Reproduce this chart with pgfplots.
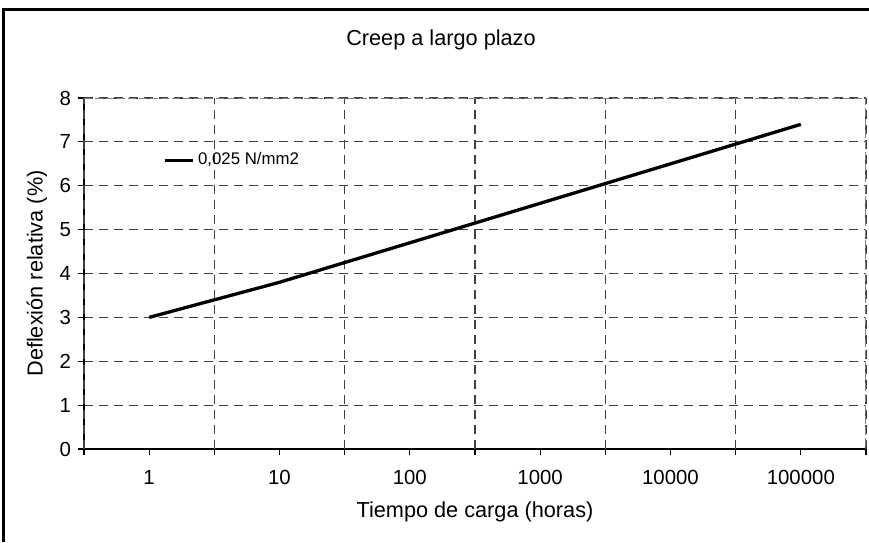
\documentclass[border=0pt]{standalone}
\usepackage{pgfplots}
\pgfplotsset{compat=1.18}
\usepackage{fontspec}
\setmainfont{Liberation Sans}
\begin{document}
\begin{tikzpicture}[x=1pt,y=1pt]
\useasboundingbox (-42pt,-46.5pt) rectangle (392.5pt,224.5pt);
\begin{axis}[
  at={(0,0)}, anchor=south west,
  scale only axis, width=391pt, height=175.5pt,
  xmin=-0.5, xmax=5.5, ymin=0, ymax=8,
  axis x line*=bottom, axis y line*=left,
  axis line style={-, black, line width=0.6pt},
  tick align=outside, major tick length=3pt,
  tick style={black, line width=0.6pt},
  xtick={0,...,5}, xticklabels={1,10,100,1000,10000,100000},
  extra x ticks={-0.5,0.5,1.5,2.5,3.5,4.5,5.5},
  extra x tick labels={,,,,,,},
  extra x tick style={xmajorgrids=true},
  ytick={0,...,8},
  ymajorgrids=true,
  major grid style={dash pattern=on 4.5pt off 3pt, color=black!75, line width=0.55pt},
  /pgf/number format/assume math mode=true,
  tick label style={font=\fontsize{10.2}{12}\selectfont},
  xticklabel style={yshift=-4pt},
  label style={font=\fontsize{10.85}{13}\selectfont},
  xlabel={Tiempo de carga (horas)},
  ylabel={Deflexión relativa (\%)},
  xlabel style={at={(axis description cs:0.5,-0.179)}, anchor=center},
  ylabel style={at={(axis description cs:-0.0601,0.5)}, anchor=center},
  title={Creep a largo plazo},
  every axis title shift=0pt,
  title style={at={(axis description cs:0.4565,1.165)}, anchor=center, font=\fontsize{10.85}{13}\selectfont},
  legend style={draw=none, fill=none, at={(rel axis cs:0.093,0.823)}, anchor=west, font=\fontsize{8.4}{10}\selectfont},
  legend cell align=left,
  legend image code/.code={\draw[line width=1.5pt] (0pt,0pt) -- (14pt,0pt);},
]
\addplot[black, line width=1.65pt] coordinates {(0,3.0) (1,3.8) (2,4.7) (3,5.6) (4,6.5) (5,7.4)};
\addlegendentry{0,025 N/mm2}
\draw[black!50, dash pattern=on 4pt off 1.5pt, line width=1pt] (rel axis cs:0,1) -- (rel axis cs:1,1) -- (rel axis cs:1,0);
\end{axis}
\draw[line width=1.5pt] (-40pt,-46.5pt) -- (-40pt,219.5pt) -- (392.5pt,219.5pt);
\end{tikzpicture}
\end{document}
